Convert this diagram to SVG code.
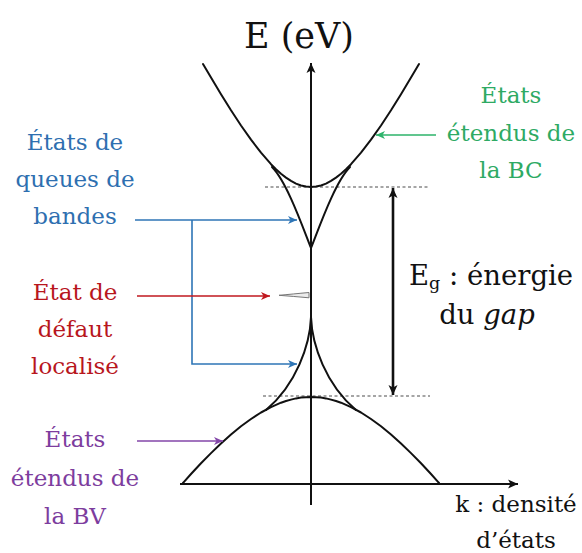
<svg xmlns="http://www.w3.org/2000/svg" width="582" height="553" viewBox="0 0 582 553">
<style>
text{font-family:"DejaVu Serif","Liberation Serif",serif;}
.lbl{font-size:23px;text-anchor:middle;}
.band{fill:none;stroke:#111;stroke-width:2;stroke-linejoin:round;stroke-linecap:round;}
.axis{fill:none;stroke:#111;stroke-width:2;}
.dot{fill:none;stroke:#888;stroke-width:1.3;stroke-dasharray:3 2.5;}
.conn{fill:none;stroke-width:1.6;}
</style>
<defs>
<marker id="ak" markerUnits="userSpaceOnUse" markerWidth="12" markerHeight="12" refX="11" refY="6" orient="auto-start-reverse" viewBox="0 0 12 12"><path d="M1,1.5 L11,6 L1,10.5 L3.5,6 z" fill="#111"/></marker>
<marker id="ab" markerUnits="userSpaceOnUse" markerWidth="10" markerHeight="10" refX="9" refY="5" orient="auto" viewBox="0 0 10 10"><path d="M0,1 L9,5 L0,9 L2.5,5 z" fill="#2e75b6"/></marker>
<marker id="ar" markerUnits="userSpaceOnUse" markerWidth="10" markerHeight="10" refX="9" refY="5" orient="auto" viewBox="0 0 10 10"><path d="M0,1 L9,5 L0,9 L2.5,5 z" fill="#c0181f"/></marker>
<marker id="ag" markerUnits="userSpaceOnUse" markerWidth="10" markerHeight="10" refX="9" refY="5" orient="auto" viewBox="0 0 10 10"><path d="M0,1 L9,5 L0,9 L2.5,5 z" fill="#2db36a"/></marker>
<marker id="ap" markerUnits="userSpaceOnUse" markerWidth="10" markerHeight="10" refX="9" refY="5" orient="auto" viewBox="0 0 10 10"><path d="M0,1 L9,5 L0,9 L2.5,5 z" fill="#8346a8"/></marker>
</defs>

<g id="title"><text x="299" y="48" font-size="35" text-anchor="middle" fill="#111">E (eV)</text></g>

<g id="axes">
<line class="axis" x1="311" y1="505" x2="311" y2="63" marker-end="url(#ak)"/>
<line class="axis" x1="180" y1="484" x2="518" y2="484" marker-end="url(#ak)"/>
</g>

<g id="gap-lines">
<line class="dot" x1="265" y1="187" x2="430" y2="187"/>
<line class="dot" x1="263" y1="396" x2="430" y2="396"/>
</g>

<g id="conduction-band">
<path class="band" d="M203,64 L211,77.6 L221,94.3 L231,110.3 L241,125.5 L251,139.7 L261,152.7 L271,164.2 L276,169.2 L281,173.7 L286,177.6 L291,180.9 L296,183.6 L301,185.5 L306,186.6 L311,187 L316,186.6 L321,185.5 L326,183.6 L331,180.9 L336,177.6 L341,173.7 L346,169.2 L351,164.2 L361,152.7 L371,139.7 L381,125.5 L391,110.3 L401,94.3 L411,77.6 L419,64"/>
</g>

<g id="valence-band">
<path class="band" d="M183,483 L184,481.8 L191,474 L201,463.3 L211,453.1 L221,443.5 L231,434.5 L241,426.3 L251,419 L261,412.5 L271,407.1 L281,402.7 L286,401 L291,399.6 L296,398.4 L301,397.6 L306,397.2 L311,397 L316,397.2 L321,397.6 L326,398.4 L331,399.6 L336,401 L341,402.7 L351,407.1 L361,412.5 L371,419 L381,426.3 L391,434.5 L401,443.5 L411,453.1 L421,463.3 L431,474 L438,481.8 L439,483"/>
</g>

<g id="band-tails">
<path class="band" d="M272,167 C287,182 303,228 311,248 C319,228 335,182 350,167"/>
<path class="band" d="M266,410 C296,385 310,345 311,317 C312,345 326,385 356,410"/>
</g>

<g id="defect-state">
<path d="M309,292.5 C298,293.5 288,294.5 279,295.3 C288,296 298,296.8 309,297.8 Z" fill="#ececec" stroke="#777" stroke-width="1"/>
</g>

<g id="gap-arrow">
<line x1="393" y1="188" x2="393" y2="395" stroke="#111" stroke-width="2.6" marker-start="url(#ak)" marker-end="url(#ak)"/>
</g>

<g id="label-bc" fill="#2eaa64">
<text class="lbl" x="511" y="103">États</text>
<text class="lbl" x="511" y="141">étendus de</text>
<text class="lbl" x="511" y="178">la BC</text>
</g>

<g id="label-tails" fill="#2e6fb0">
<text class="lbl" x="75" y="150">États de</text>
<text class="lbl" x="75" y="187">queues de</text>
<text class="lbl" x="75" y="224">bandes</text>
</g>

<g id="label-defect" fill="#b8161d">
<text class="lbl" x="75" y="300">État de</text>
<text class="lbl" x="75" y="337">défaut</text>
<text class="lbl" x="75" y="374">localisé</text>
</g>

<g id="label-bv" fill="#7d3d9e">
<text class="lbl" x="75" y="447">États</text>
<text class="lbl" x="75" y="486">étendus de</text>
<text class="lbl" x="75" y="524">la BV</text>
</g>

<g id="label-gap" fill="#111">
<text x="409" y="285" font-size="27.5">E<tspan font-size="17.5" dy="4">g</tspan><tspan dy="-4"> : énergie</tspan></text>
<text x="487" y="324" font-size="27.5" text-anchor="middle">du <tspan font-style="italic">gap</tspan></text>
</g>

<g id="label-k" fill="#111">
<text class="lbl" x="516" y="512">k : densité</text>
<text class="lbl" x="516" y="548">d’états</text>
</g>

<g id="connectors">
<line class="conn" stroke="#2db36a" x1="436" y1="135" x2="376" y2="135" marker-end="url(#ag)"/>
<line class="conn" stroke="#2e75b6" x1="135" y1="220" x2="297" y2="220" marker-end="url(#ab)"/>
<path class="conn" stroke="#2e75b6" d="M192,220 V364 H297" marker-end="url(#ab)"/>
<line class="conn" stroke="#c0181f" x1="137" y1="296" x2="270" y2="296" marker-end="url(#ar)"/>
<line class="conn" stroke="#8346a8" x1="137" y1="441" x2="223" y2="441" marker-end="url(#ap)"/>
</g>
</svg>
